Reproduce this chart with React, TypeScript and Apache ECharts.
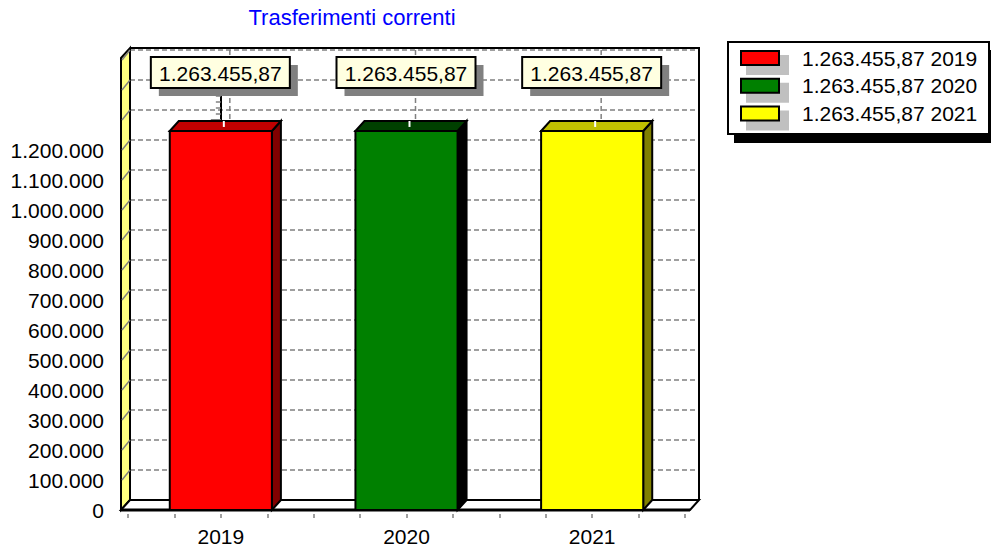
import React, { useEffect, useRef } from 'react';
import * as echarts from 'echarts';

const categories = ['2019', '2020', '2021'];
const values = [1263455.87, 1263455.87, 1263455.87];
const yMin = 0;
const yMax = 1500000;
const yStep = 100000;
const yLabelMax = 1200000;
const titleText = 'Trasferimenti correnti';
const frontColors = ['#FF0000', '#008000', '#FFFF00'];
const topColors = ['#C00000', '#004000', '#C0C000'];
const sideColors = ['#800000', '#000000', '#808000'];

const FONT = "'Liberation Sans', Arial, sans-serif";
const FS = 21;
const DX = 9;
const DY = 10;

function fmtThousands(n: number): string {
  return String(Math.round(n)).replace(/\B(?=(\d{3})+(?!\d))/g, '.');
}
function fmtMoney(n: number): string {
  const parts = n.toFixed(2).split('.');
  return fmtThousands(Number(parts[0])) + ',' + parts[1];
}

export default function App() {
  const ref = useRef<HTMLDivElement>(null);
  useEffect(() => {
    if (!ref.current) return;
    const chart = echarts.init(ref.current, null, { renderer: 'svg' });

    const frameRender = (params: any, api: any) => {
      const cs = params.coordSys;
      const L = cs.x - 7;
      const R = cs.x + cs.width + 5;
      const T = cs.y - 2;
      const B = cs.y + cs.height;
      const children: any[] = [];
      children.push({
        type: 'polygon',
        shape: { points: [[L, T], [L + DX, T - DY], [L + DX, B - DY], [L, B]] },
        style: { fill: '#FFFF80', stroke: '#000', lineWidth: 2 },
      });
      for (let v = yMin + yStep; v <= yMax; v += yStep) {
        const y = api.coord([0, v])[1];
        children.push({
          type: 'line',
          shape: { x1: L + 1, y1: y, x2: L + DX, y2: y - DY },
          style: { stroke: '#808080', lineWidth: 1.5 },
        });
      }
      children.push({
        type: 'polyline',
        shape: { points: [[L + DX, T - DY], [R + DX, T - DY], [R + DX, B - DY]] },
        style: { fill: null, stroke: '#000', lineWidth: 2 },
      });
      children.push({
        type: 'polygon',
        shape: { points: [[L, B], [L + DX, B - DY], [R + DX, B - DY], [R, B]] },
        style: { fill: '#FFFFFF', stroke: '#000', lineWidth: 2 },
      });
      children.push({
        type: 'line',
        shape: { x1: L, y1: B, x2: R, y2: B },
        style: { stroke: '#000', lineWidth: 3 },
      });
      return { type: 'group', children };
    };

    const barRender = (params: any, api: any) => {
      const idx = params.dataIndex;
      const cs = params.coordSys;
      const cat = api.value(0);
      const v = api.value(1);
      const top = api.coord([cat, v]);
      const base = api.coord([cat, 0]);
      const cx = top[0];
      const w = api.size([1, 0])[0] * 0.55;
      const x0 = cx - w / 2;
      const x1 = cx + w / 2;
      const yT = top[1];
      const yB = base[1];
      const lw = 139;
      const lh = 31;
      const lx = cx - 70;
      const ly = cs.y - 3;
      const children: any[] = [
        {
          type: 'line',
          shape: { x1: cx + DX, y1: cs.y - DY, x2: cx + DX, y2: yB - DY },
          style: { stroke: '#808080', lineWidth: 1.5, lineDash: [5, 3] },
        },
        {
          type: 'polygon',
          shape: { points: [[x1, yT], [x1 + DX, yT - DY], [x1 + DX, yB - DY], [x1, yB]] },
          style: { fill: sideColors[idx], stroke: '#000', lineWidth: 2 },
        },
        {
          type: 'polygon',
          shape: { points: [[x0, yT], [x0 + DX, yT - DY], [x1 + DX, yT - DY], [x1, yT]] },
          style: { fill: topColors[idx], stroke: '#000', lineWidth: 2 },
        },
        {
          type: 'rect',
          shape: { x: x0, y: yT, width: w, height: yB - yT },
          style: { fill: frontColors[idx], stroke: '#000', lineWidth: 2 },
        },
        {
          type: 'line',
          shape: { x1: cx + 3, y1: yT - 10, x2: cx + 3, y2: yT - 4 },
          style: { stroke: '#FFFFFF', lineWidth: 2 },
        },
        {
          type: 'rect',
          shape: { x: lx + 8, y: ly + 8, width: lw, height: lh },
          style: { fill: '#808080' },
        },
        {
          type: 'rect',
          shape: { x: lx, y: ly, width: lw, height: lh },
          style: { fill: '#FFFFE1', stroke: '#000', lineWidth: 2 },
        },
        {
          type: 'text',
          style: {
            text: fmtMoney(v),
            x: lx + lw / 2,
            y: ly + lh / 2 + 1,
            align: 'center',
            verticalAlign: 'middle',
            textAlign: 'center',
            textVerticalAlign: 'middle',
            font: FS + 'px ' + FONT,
            fill: '#000',
          },
        },
      ];
      return { type: 'group', children };
    };

    const legendEls: any[] = [
      { type: 'rect', shape: { x: 734, y: 50, width: 257, height: 93 }, style: { fill: '#000' } },
      { type: 'rect', shape: { x: 728, y: 42, width: 261, height: 92 }, style: { fill: '#fff', stroke: '#000', lineWidth: 2 } },
    ];
    categories.forEach((c, i) => {
      const cy = 58 + i * 27.7;
      legendEls.push(
        { type: 'rect', shape: { x: 746, y: cy - 3, width: 43, height: 20 }, style: { fill: '#C0C0C0' } },
        { type: 'rect', shape: { x: 741, y: cy - 7, width: 38, height: 14 }, style: { fill: frontColors[i], stroke: '#000', lineWidth: 2 } },
        {
          type: 'text',
          style: {
            text: fmtMoney(values[i]) + ' ' + c,
            x: 802,
            y: cy,
            textAlign: 'left',
            textVerticalAlign: 'middle',
            align: 'left',
            verticalAlign: 'middle',
            font: FS + 'px ' + FONT,
            fill: '#000',
          },
        }
      );
    });

    chart.setOption({
      animation: false,
      backgroundColor: '#FFFFFF',
      title: {
        text: titleText,
        left: 352,
        top: 6,
        padding: 0,
        textAlign: 'center',
        textStyle: { color: '#0000FF', fontSize: 22, fontWeight: 'normal', fontFamily: FONT },
      },
      grid: [
        { left: 128, right: 306, top: 60, bottom: 47 },
        { left: 130, right: 292, top: 50, bottom: 57 },
      ],
      xAxis: [
        {
          type: 'category',
          gridIndex: 0,
          data: categories,
          position: 'bottom',
          axisLine: { show: false },
          axisTick: { show: false },
          axisLabel: { fontSize: FS, color: '#000', margin: 16, fontFamily: FONT },
          splitLine: { show: false },
        },
        { type: 'value', gridIndex: 1, min: 0, max: 1, show: false },
        {
          type: 'value',
          gridIndex: 0,
          min: -0.5,
          max: 2.5,
          interval: 0.25,
          position: 'bottom',
          offset: 4,
          axisLine: { show: false },
          axisTick: { show: true, length: 4, lineStyle: { color: '#808080', width: 1.5 } },
          axisLabel: { show: false },
          splitLine: { show: false },
        },
      ],
      yAxis: [
        {
          type: 'value',
          gridIndex: 0,
          min: yMin,
          max: yMax,
          interval: yStep,
          offset: 7,
          axisLine: { show: true, lineStyle: { color: '#000', width: 2 } },
          axisTick: { show: true, length: 10, lineStyle: { color: '#808080', width: 2 } },
          minorTick: { show: true, splitNumber: 5, length: 5, lineStyle: { color: '#808080', width: 1.5 } },
          axisLabel: {
            fontSize: FS,
            color: '#000',
            margin: 17,
            fontFamily: FONT,
            formatter: (v: number) => (v <= yLabelMax ? fmtThousands(v) : ''),
          },
          splitLine: { show: false },
        },
        {
          type: 'value',
          gridIndex: 1,
          min: yMin,
          max: yMax,
          interval: yStep,
          axisLine: { show: false },
          axisTick: { show: false },
          axisLabel: { show: false },
          splitLine: { show: true, lineStyle: { color: '#808080', width: 1.5, type: [5, 3] } },
        },
      ],
      series: [
        {
          type: 'custom',
          name: 'frame',
          xAxisIndex: 0,
          yAxisIndex: 0,
          z: 1,
          silent: true,
          data: [[0, 0]],
          renderItem: frameRender,
        },
        {
          type: 'custom',
          name: 'bars',
          xAxisIndex: 0,
          yAxisIndex: 0,
          z: 3,
          silent: true,
          encode: { x: 0, y: 1 },
          data: values.map((v, i) => [i, v]),
          renderItem: barRender,
        },
      ],
      graphic: legendEls,
    });
    return () => chart.dispose();
  }, []);
  return (
    <div
      ref={ref}
      style={{ position: 'fixed', left: 0, top: 0, width: 991, height: 557, background: '#fff' }}
    />
  );
}
